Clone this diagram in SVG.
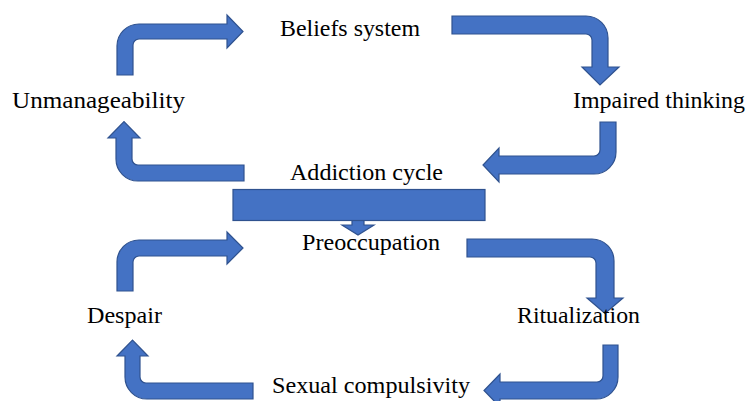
<svg xmlns="http://www.w3.org/2000/svg" width="748" height="401" viewBox="0 0 748 401">
  <style>
    .arrow { fill: #4472C4; stroke: #2F528F; stroke-width: 1.2; stroke-linejoin: miter; }
    .label { font-family: "Liberation Serif", "Times New Roman", serif; font-size: 23px; fill: #000; }
  </style>
  <rect width="748" height="401" fill="#fff"/>

  <!-- bent arrows forming the two cycles -->
  <g id="connectors">
    <path class="arrow" d="M117,75 L117,46 A22,22 0 0 1 139,24 L227,24 L227,15 L243,31.5 L227,48 L227,39 L139,39 A6,6 0 0 0 133,45 L133,75 Z"/>
    <path class="arrow" d="M452,16 L586,16 A22,22 0 0 1 608,38 L608,67 L619,67 L600,85 L582,67 L592,67 L592,40 A6,6 0 0 0 586,34 L452,34 Z"/>
    <path class="arrow" d="M616,122 L616,152 A22,22 0 0 1 594,174 L499,174 L499,182 L483,165 L499,148 L499,156 L594,156 A6,6 0 0 0 600,150 L600,122 Z"/>
    <path class="arrow" d="M244,165 L138,165 A6,6 0 0 1 132,159 L132,138 L140,138 L124,121.5 L108,138 L116,138 L116,159 A22,22 0 0 0 138,181 L244,181 Z"/>
    <path class="arrow" d="M352,219 L352,225 L342,225 L358,235 L374,225 L364,225 L364,219 Z"/>
    <path class="arrow" d="M117,291 L117,262 A22,22 0 0 1 139,240 L227,240 L227,232 L243,248 L227,264 L227,256 L139,256 A6,6 0 0 0 133,262 L133,291 Z"/>
    <path class="arrow" d="M467,239 L592,239 A22,22 0 0 1 614,261 L614,298 L623,298 L605,313.5 L587,298 L596,298 L596,263 A6,6 0 0 0 590,257 L467,257 Z"/>
    <path class="arrow" d="M618,345 L618,377 A22,22 0 0 1 596,399 L500,399 L500,407 L484,390.5 L500,374 L500,382 L597,382 A6,6 0 0 0 603,376 L603,345 Z"/>
    <path class="arrow" d="M253,383 L146,383 A6,6 0 0 1 140,377 L140,356 L148,356 L132.5,340 L117,356 L125,356 L125,377 A22,22 0 0 0 147,399 L253,399 Z"/>
  </g>

  <g id="addiction-cycle">
    <rect class="arrow" x="233" y="189.5" width="252" height="31"/>
    <text class="label" x="290" y="180" textLength="153" lengthAdjust="spacingAndGlyphs">Addiction cycle</text>
  </g>
  <g id="beliefs-system"><text class="label" x="280" y="35.5" textLength="140" lengthAdjust="spacingAndGlyphs">Beliefs system</text></g>
  <g id="impaired-thinking"><text class="label" x="573" y="108" textLength="172" lengthAdjust="spacingAndGlyphs">Impaired thinking</text></g>
  <g id="unmanageability"><text class="label" x="12" y="108" textLength="173" lengthAdjust="spacingAndGlyphs">Unmanageability</text></g>
  <g id="preoccupation"><text class="label" x="302" y="250" textLength="138" lengthAdjust="spacingAndGlyphs">Preoccupation</text></g>
  <g id="ritualization"><text class="label" x="517" y="323" textLength="123" lengthAdjust="spacingAndGlyphs">Ritualization</text></g>
  <g id="sexual-compulsivity"><text class="label" x="272" y="393" textLength="198" lengthAdjust="spacingAndGlyphs">Sexual compulsivity</text></g>
  <g id="despair"><text class="label" x="87" y="323" textLength="75" lengthAdjust="spacingAndGlyphs">Despair</text></g>
</svg>
